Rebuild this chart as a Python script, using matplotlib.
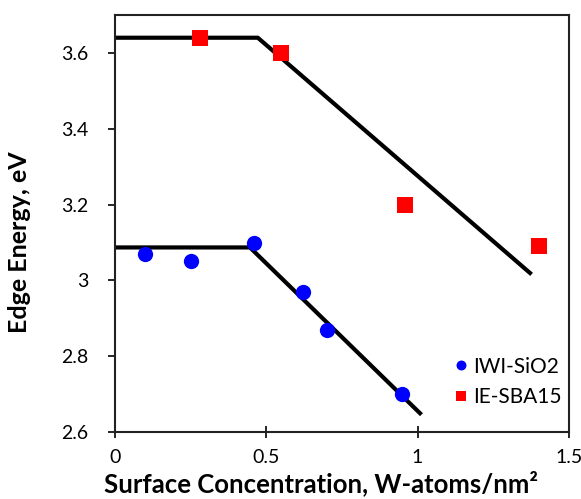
import numpy as np
import matplotlib.pyplot as plt

plt.rcParams['font.family'] = ['Lato', 'DejaVu Sans']

# measured points
iwi_x = [0.10, 0.25, 0.46, 0.62, 0.70, 0.95]
iwi_y = [3.07, 3.05, 3.10, 2.97, 2.87, 2.70]
ie_x = [0.28, 0.55, 0.96, 1.40]
ie_y = [3.64, 3.60, 3.20, 3.09]

# hand-drawn trend lines (plateau + linear drop)
iwi_fit_x = [0.0, 0.446, 1.013]
iwi_fit_y = [3.087, 3.087, 2.646]
ie_fit_x = [0.0, 0.472, 1.377]
ie_fit_y = [3.640, 3.640, 3.016]

fig = plt.figure(figsize=(5.81, 4.99), dpi=100)
ax = fig.add_axes([0.198, 0.134, 0.781, 0.836])

ax.plot(iwi_fit_x, iwi_fit_y, color='black', lw=3, solid_capstyle='butt', zorder=2)
ax.plot(ie_fit_x, ie_fit_y, color='black', lw=3, solid_capstyle='butt', zorder=2)
ax.plot(iwi_x, iwi_y, 'o', color='#0000ff', ms=11, mew=0, label='IWI-SiO2', zorder=3)
ax.plot(ie_x, ie_y, 's', color='#ff0000', ms=12, mew=0, label='IE-SBA15', zorder=3)

ax.set_xlim(0, 1.5)
ax.set_ylim(2.6, 3.7)
ax.set_xticks([0, 0.5, 1, 1.5])
ax.set_xticklabels(['0', '0.5', '1', '1.5'])
ax.set_yticks([2.6, 2.8, 3.0, 3.2, 3.4, 3.6])
ax.set_yticklabels(['2.6', '2.8', '3', '3.2', '3.4', '3.6'])
ax.tick_params(axis='x', direction='inout', length=8, width=1.2, labelsize=14, pad=8)
ax.tick_params(axis='y', direction='out', length=5, width=1.2, labelsize=14, pad=14)
for s in ax.spines.values():
    s.set_linewidth(1.5)
    s.set_color('#222222')

ax.set_xlabel('Surface Concentration, W-atoms/nm\u00b2', fontsize=18.5, fontweight='bold')
ax.set_ylabel('Edge Energy, eV', fontsize=18, fontweight='bold')
ax.xaxis.set_label_coords(0.455, -0.092)
ax.yaxis.set_label_coords(-0.185, 0.455)

leg = ax.legend(loc='lower right', bbox_to_anchor=(0.985, 0.06), frameon=False,
                fontsize=15, handletextpad=0.2, handlelength=0.8,
                labelspacing=0.5, borderaxespad=0, borderpad=0, markerscale=0.65)

plt.savefig('out.png', dpi=100)
